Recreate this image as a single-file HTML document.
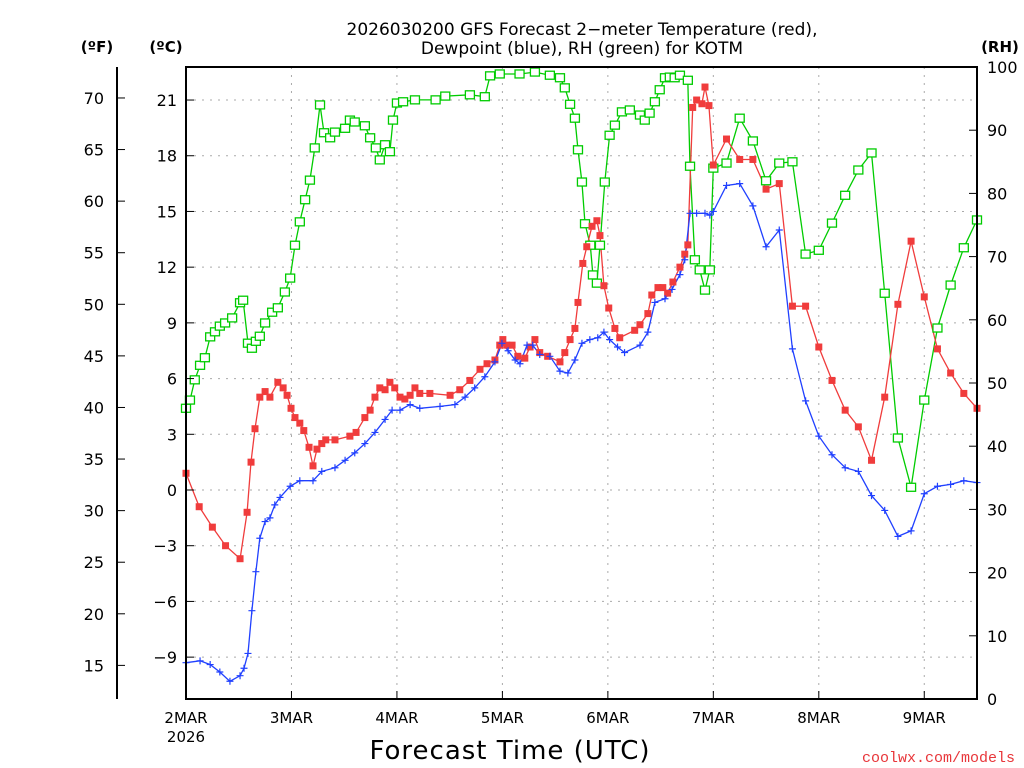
<!DOCTYPE html>
<html><head><meta charset="utf-8"><style>
html,body{margin:0;padding:0;background:#fff;width:1024px;height:768px;overflow:hidden}
svg{display:block;font-family:"DejaVu Sans","Liberation Sans",sans-serif}
</style></head><body>
<svg id="chart" width="1024" height="768" viewBox="0 0 1024 768">
<g id="grid"></g>
<g id="series"></g>
<rect x="186" y="67" width="791" height="632" fill="none" stroke="#000" stroke-width="2"/>
<line x1="117" y1="67" x2="117" y2="699" stroke="#000" stroke-width="2"/>
<g id="axes"></g>
<text x="582" y="35" text-anchor="middle" font-size="17">2026030200 GFS Forecast 2−meter Temperature (red),</text>
<text x="582" y="54" text-anchor="middle" font-size="17">Dewpoint (blue), RH (green) for KOTM</text>
<text x="97" y="52" text-anchor="middle" font-size="15" font-weight="bold">(ºF)</text>
<text x="166" y="52" text-anchor="middle" font-size="15" font-weight="bold">(ºC)</text>
<text x="1000" y="52" text-anchor="middle" font-size="15" font-weight="bold">(RH)</text>
<text x="186" y="742" text-anchor="middle" font-size="15">2026</text>
<text x="510" y="759" text-anchor="middle" font-size="26" letter-spacing="1">Forecast Time (UTC)</text>
<text x="1015" y="762" text-anchor="end" font-size="15" fill="#e8363a" font-family="Liberation Mono, monospace">coolwx.com/models</text>
</svg>
<script>
const hoursT=[0,3,6,9,12.3,13.9,14.8,15.7,16.8,18,19.1,20.9,22.1,23,23.9,24.8,25.9,26.8,28,28.9,29.8,30.9,31.8,33.9,37.3,38.7,40.7,41.9,43,44.1,45.3,46.4,47.5,48.7,49.8,51,52.1,53.2,55.5,60.1,62.3,64.6,66.9,68.5,70.3,71.4,72.1,73,74.2,75.5,77.1,78.3,79.4,80.5,82.3,85.1,86.2,87.4,88.5,89.2,90.3,91.2,92.4,93.5,94.2,95.1,96.2,97.6,98.7,102.1,103.3,105.1,106,107.4,108.5,109.6,110.8,112.4,113.5,114.2,115.3,116.2,117.4,118.1,119,120,123,126,129,132,135,138,141,144,147,150,153,156,159,162,165,168,171,174,177,180];
const tempC=[0.9,-0.9,-2.0,-3.0,-3.7,-1.2,1.5,3.3,5.0,5.3,5.0,5.8,5.5,5.1,4.4,3.9,3.6,3.2,2.3,1.3,2.2,2.5,2.7,2.7,2.9,3.1,3.9,4.3,5.0,5.5,5.4,5.8,5.5,5.0,4.9,5.1,5.5,5.2,5.2,5.1,5.4,5.9,6.5,6.8,7.0,7.8,8.1,7.8,7.8,7.2,7.1,7.7,8.1,7.4,7.2,6.9,7.4,8.1,8.7,10.1,12.2,13.1,14.2,14.5,13.7,11.0,9.8,8.7,8.2,8.6,8.9,9.5,10.5,10.9,10.9,10.6,11.2,12.0,12.7,13.2,20.6,21.0,20.8,21.7,20.7,17.5,18.9,17.8,17.8,16.2,16.5,9.9,9.9,7.7,5.9,4.3,3.4,1.6,5.0,10.0,13.4,10.4,7.6,6.3,5.2,4.4];
const hoursD=[0,3.2,5.5,7.7,10,12.3,13.2,14.1,15,15.9,16.8,18,19.1,20.2,21.4,23.7,25.9,28.9,30.9,33.9,36.2,38.4,40.7,43,45.3,46.9,48.7,51,53.2,57.8,61.2,63.5,65.7,68,70.3,71.9,73.3,74.9,76,77.6,78.9,80.5,82.8,85.1,86.9,88.5,90.1,91.9,93.7,95.1,96.4,98.2,99.8,103.3,105.1,106.7,109,110.6,112.4,113.5,114.7,116.2,118.1,119.2,120,123,126,129,132,135,138,141,144,147,150,153,156,159,162,165,168,171,174,177,180];
const dewC=[-9.3,-9.2,-9.4,-9.8,-10.3,-10.0,-9.6,-8.8,-6.5,-4.4,-2.6,-1.7,-1.5,-0.8,-0.4,0.2,0.5,0.5,1.0,1.2,1.6,2.0,2.5,3.1,3.8,4.3,4.3,4.6,4.4,4.5,4.6,5.0,5.5,6.1,6.9,7.9,7.5,7.0,6.8,7.8,7.8,7.3,7.2,6.4,6.3,7.0,7.9,8.1,8.2,8.5,8.1,7.7,7.4,7.8,8.5,10.1,10.3,10.8,11.6,12.4,14.9,14.9,14.9,14.8,15.0,16.4,16.5,15.3,13.1,14.0,7.6,4.8,2.9,1.9,1.2,1.0,-0.3,-1.1,-2.5,-2.2,-0.2,0.2,0.3,0.5,0.4];
const hoursR=[0,0.9,2,3.2,4.3,5.5,6.6,7.7,8.9,10.5,12.3,13,14.1,15,15.9,16.8,18,19.6,20.9,22.5,23.7,24.8,25.9,27.1,28.2,29.3,30.5,31.4,32.8,33.9,36.2,37.3,38.4,40.7,41.9,43.2,44.1,45.3,46.4,47.1,48,49.4,52.1,56.8,59,64.6,68,69.2,71.4,75.9,79.4,82.8,85.1,86.2,87.4,88.5,89.2,90.1,90.8,92,92.6,93.5,94.2,95.3,96.4,97.6,99.2,101,103.3,104.4,105.5,106.7,107.8,109,110.1,111.2,112.4,114.2,114.7,115.8,116.9,118.1,119.2,120,123,126,129,132,135,138,141,144,147,150,153,156,159,162,165,168,171,174,177,180];
const rhPct=[46,47.3,50.5,52.8,54,57.3,58.1,59,59.5,60.3,62.7,63.1,56.3,55.5,56.6,57.4,59.5,61.2,61.9,64.4,66.6,71.8,75.5,79,82.1,87.2,94,89.6,88.8,89.7,90.3,91.6,91.3,90.7,88.8,87.2,85.3,87.7,86.6,91.6,94.3,94.5,94.8,94.8,95.4,95.6,95.3,98.6,98.9,98.9,99.2,98.7,98.3,96.7,94.1,91.9,86.9,81.8,75.2,71.8,67.1,65.8,71.8,81.8,89.2,90.8,92.9,93.2,92.4,91.6,92.7,94.5,96.4,98.3,98.4,98.3,98.7,97.9,84.3,69.5,67.9,64.7,67.9,84,84.8,91.9,88.3,82,84.8,85,70.4,71,75.3,79.7,83.7,86.4,64.2,41.3,33.5,47.3,58.7,65.5,71.4,75.8];
const celsiusTicks=[-9,-6,-3,0,3,6,9,12,15,18,21];
const fahrenheitTicks=[15,20,25,30,35,40,45,50,55,60,65,70];
const rhTicks=[0,10,20,30,40,50,60,70,80,90,100];
const dayLabels=["2MAR","3MAR","4MAR","5MAR","6MAR","7MAR","8MAR","9MAR"];

const NS="http://www.w3.org/2000/svg";
const X0=186,X1=977,Y0=67,Y1=699,HMAX=180;
const xH=h=>X0+h*(X1-X0)/HMAX;
const yC=c=>490-c*18.57;
const yF=f=>yC((f-32)/1.8);
const yR=r=>Y1-r*(Y1-Y0)/100;
function mk(tag,attrs,parent){const e=document.createElementNS(NS,tag);for(const k in attrs)e.setAttribute(k,attrs[k]);parent.appendChild(e);return e;}
const grid=document.getElementById('grid'),axes=document.getElementById('axes'),ser=document.getElementById('series');

celsiusTicks.forEach(c=>{const y=yC(c);
 const g=mk('line',{x1:X0,x2:X1,y1:y,y2:y,stroke:'#aaa','stroke-width':1,'stroke-dasharray':'2,6'},grid);
 
 const t=mk('line',{x1:X0,x2:X0+8,y1:y,y2:y,stroke:'#000','stroke-width':1},axes);
 
 const l=mk('text',{x:177,y:y+6,'text-anchor':'end','font-size':16},axes);l.textContent=c<0?'−'+(-c):String(c);
 });
fahrenheitTicks.forEach(f=>{const y=yF(f);
 const t=mk('line',{x1:117,x2:125,y1:y,y2:y,stroke:'#000','stroke-width':1},axes);
 
 const l=mk('text',{x:104,y:y+6,'text-anchor':'end','font-size':16},axes);l.textContent=String(f);
 });
rhTicks.forEach(r=>{const y=yR(r);
 const t=mk('line',{x1:X1-8,x2:X1,y1:y,y2:y,stroke:'#000','stroke-width':1},axes);
 
 const l=mk('text',{x:987,y:y+6,'text-anchor':'start','font-size':16},axes);l.textContent=String(r);
 });
dayLabels.forEach((d,i)=>{const x=xH(i*24);
 if(i>0){const g=mk('line',{x1:x,x2:x,y1:Y0,y2:Y1,stroke:'#aaa','stroke-width':1,'stroke-dasharray':'2,6'},grid);
 }
 const t=mk('line',{x1:x,x2:x,y1:Y1-8,y2:Y1,stroke:'#000','stroke-width':1},axes);
 
 const l=mk('text',{x:x,y:723,'text-anchor':'middle','font-size':15},axes);l.textContent=d;
 });

function line(hs,vs,yf,color,name){
 const pts=hs.map((h,i)=>xH(h).toFixed(1)+','+yf(vs[i]).toFixed(1)).join(' ');
 const p=mk('polyline',{points:pts,fill:'none',stroke:color,'stroke-width':1.3},ser);
 }
line(hoursR,rhPct,yR,'#00cc00','rh-line');
line(hoursT,tempC,yC,'#f03c3c','temperature-line');
line(hoursD,dewC,yC,'#2040ff','dewpoint-line');
hoursR.forEach((h,i)=>{const x=xH(h),y=yR(rhPct[i]);
 const m=mk('rect',{x:x-4.5,y:y-4,width:9,height:8,fill:'#fff',stroke:'#00cc00','stroke-width':1.3},ser);
 });
hoursT.forEach((h,i)=>{const x=xH(h),y=yC(tempC[i]);
 const m=mk('rect',{x:x-3.5,y:y-3.5,width:7,height:7,fill:'#f03c3c'},ser);
 });
hoursD.forEach((h,i)=>{const x=xH(h),y=yC(dewC[i]);
 const m=mk('path',{d:`M${x-3.5},${y}H${x+3.5}M${x},${y-3.5}V${y+3.5}`,stroke:'#2040ff','stroke-width':1.2},ser);
 });
</script>
</body></html>
